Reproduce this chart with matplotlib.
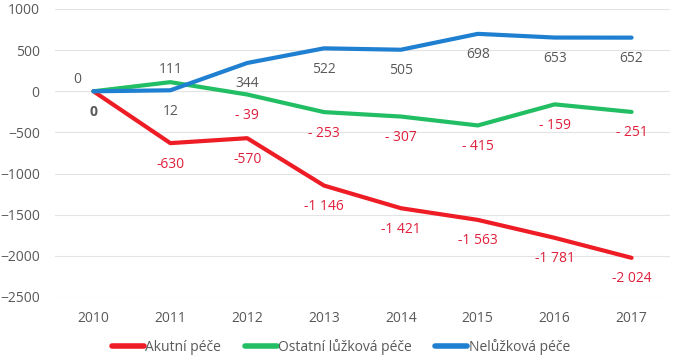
import matplotlib.pyplot as plt
from matplotlib.lines import Line2D

years = [2010, 2011, 2012, 2013, 2014, 2015, 2016, 2017]
akutni = [0, -630, -570, -1146, -1421, -1563, -1781, -2024]
ostatni = [0, 111, -39, -253, -307, -415, -159, -251]
neluzkova = [0, 12, 344, 522, 505, 698, 653, 652]

names = ['Akutní péče', 'Ostatní lůžková péče', 'Nelůžková péče']
colors = ['#EE1C25', '#22BE64', '#1F7FD0']

GRAY = '#595959'
LABEL_RED = '#E0203C'

plt.rcParams['font.family'] = ['Open Sans', 'DejaVu Sans']
plt.rcParams['font.size'] = 10

fig = plt.figure(figsize=(6.75, 3.62), dpi=100)
ax = fig.add_axes([55 / 675, 1 - 297 / 362, 615 / 675, 288 / 362])

series = [akutni, ostatni, neluzkova]
for vals, c in zip(series, colors):
    ax.plot(years, vals, color=c, lw=3, solid_joinstyle='round',
            solid_capstyle='round', zorder=3)


def fmt_red(v):
    return f'{v:,}'.replace(',', ' ')


def fmt_green(v):
    return f'- {abs(v)}' if v < 0 else str(v)


# label offsets in pixels, default below the point
offsets = {('o', 2010): (-16, 12), ('o', 2011): (0, 13)}

for key, vals, fmt in [('a', akutni, fmt_red), ('o', ostatni, fmt_green),
                       ('n', neluzkova, str)]:
    for yr, v in zip(years, vals):
        if key == 'a' and yr == 2010:
            continue
        dx, dy = offsets.get((key, yr), (0, -21))
        col = LABEL_RED if v < 0 else GRAY
        weight = 'bold' if (key == 'n' and yr == 2010) else 'normal'
        ax.annotate(fmt(v), (yr, v), xytext=(dx, dy),
                    textcoords='offset pixels', ha='center', va='center',
                    color=col, fontsize=10, fontweight=weight, zorder=4)

ax.set_xlim(2009.5, 2017.5)
ax.set_ylim(-2500, 1000)
ax.set_yticks(range(-2500, 1001, 500))
ax.set_xticks(years)
ax.grid(axis='y', color='#E3E3E3', lw=0.8)
ax.set_axisbelow(True)
for s in ax.spines.values():
    s.set_visible(False)
ax.tick_params(axis='both', length=0, colors=GRAY, labelsize=10)
ax.tick_params(axis='x', pad=10)
ax.tick_params(axis='y', pad=11)

handles = [Line2D([0], [0], color=c, lw=4, solid_capstyle='round')
           for c in colors]
fig.legend(handles, names, loc='center', bbox_to_anchor=(0.505, 1 - 347 / 362),
           ncol=3, frameon=False, handlelength=2.3, handletextpad=0.1,
           columnspacing=1.7, labelcolor=GRAY, fontsize=10)

fig.savefig('out.png', dpi=100)
